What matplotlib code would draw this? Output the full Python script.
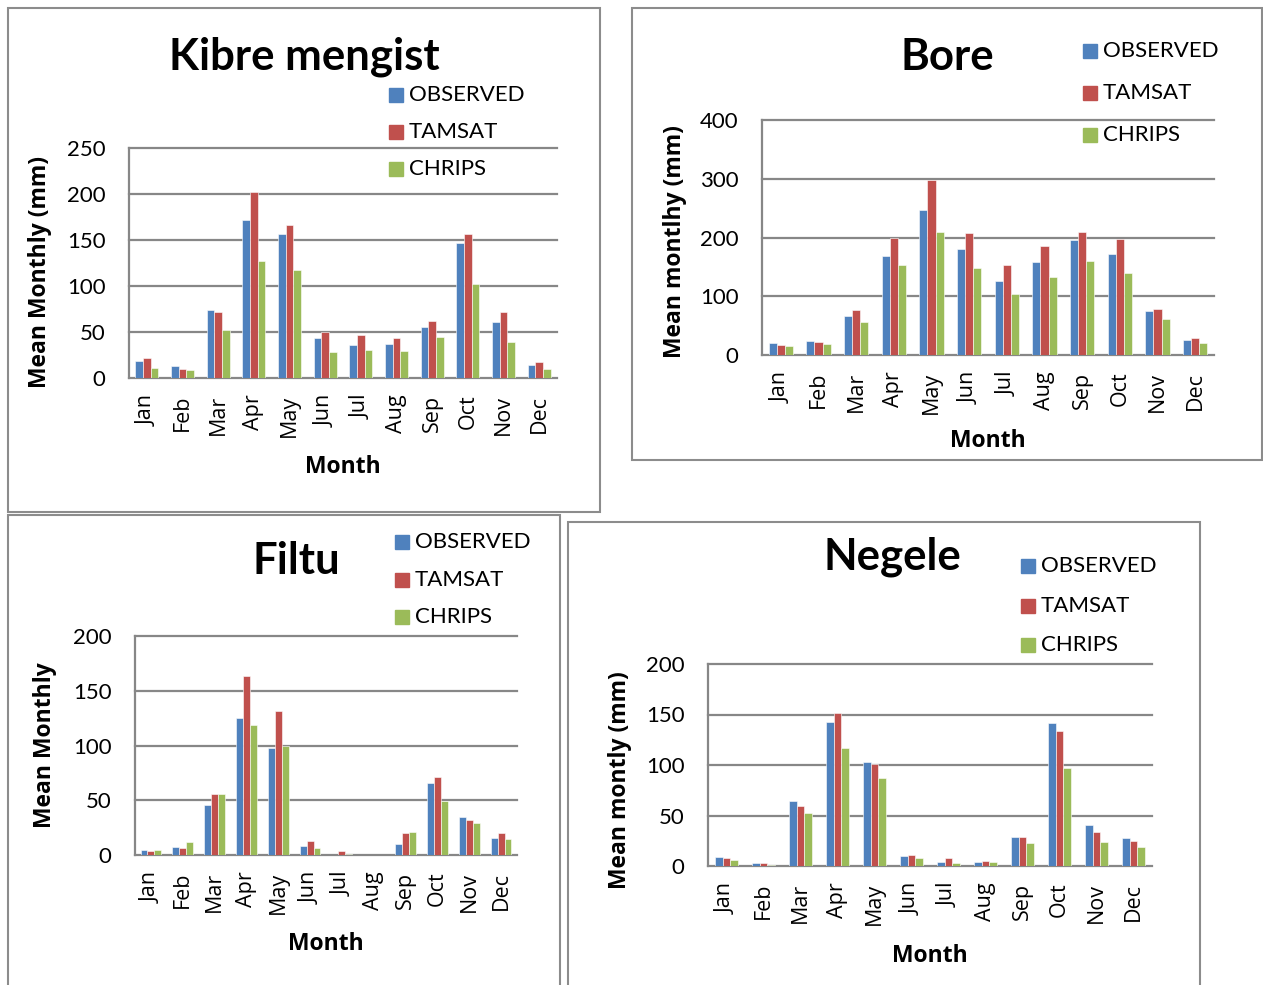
import matplotlib
matplotlib.use("Agg")
import matplotlib.pyplot as plt
from matplotlib.patches import Rectangle
import numpy as np

W, H = 1263, 985

months = ["Jan", "Feb", "Mar", "Apr", "May", "Jun", "Jul", "Aug", "Sep", "Oct", "Nov", "Dec"]
series_names = ["OBSERVED", "TAMSAT", "CHRIPS"]
series_colors = ["#4F81BD", "#C0504D", "#9BBB59"]

kibre_obs = [18.5, 13.4, 73.6, 171.4, 156.2, 43.1, 35.9, 36.6, 55.1, 147.1, 60.5, 13.8]
kibre_tam = [21.4, 9.8, 72.1, 201.8, 166.3, 50.0, 46.4, 43.5, 62.0, 156.2, 72.1, 17.4]
kibre_chr = [11.2, 8.7, 51.8, 126.8, 117.0, 28.3, 30.1, 29.7, 44.6, 101.8, 38.8, 10.1]

bore_obs = [19.8, 24.3, 66.7, 168.4, 246.3, 180.2, 126.0, 158.2, 196.0, 171.8, 75.1, 25.4]
bore_tam = [16.9, 22.6, 76.3, 198.9, 298.3, 207.9, 152.5, 185.3, 210.2, 197.2, 78.5, 29.4]
bore_chr = [15.3, 18.6, 56.5, 153.1, 210.2, 147.5, 103.4, 132.2, 160.5, 139.5, 61.0, 20.9]

filtu_obs = [4.6, 7.3, 45.4, 125.3, 97.9, 8.5, 0.0, 0.0, 10.1, 66.2, 34.8, 15.9]
filtu_tam = [4.0, 6.4, 55.5, 163.1, 131.1, 13.1, 3.7, 0.0, 19.8, 71.3, 32.3, 20.4]
filtu_chr = [4.9, 11.6, 55.5, 118.6, 99.7, 6.7, 1.2, 0.0, 21.3, 49.1, 29.3, 15.0]

negele_obs = [9.3, 3.0, 64.6, 142.4, 103.3, 9.9, 3.6, 4.0, 28.8, 141.1, 40.1, 28.1]
negele_tam = [8.3, 3.0, 59.6, 151.3, 101.0, 10.9, 8.3, 5.0, 28.5, 133.8, 34.1, 24.5]
negele_chr = [6.0, 1.0, 52.0, 116.6, 86.8, 7.6, 2.6, 4.0, 23.2, 97.4, 24.2, 18.9]

kibre_ticks = [0, 50, 100, 150, 200, 250]
bore_ticks = [0, 100, 200, 300, 400]
filtu_ticks = [0, 50, 100, 150, 200]
negele_ticks = [0, 50, 100, 150, 200]

CAL = ["Lato", "DejaVu Sans"]
WIDE = ["Open Sans", "DejaVu Sans"]
GRID = "#878787"

fig = plt.figure(figsize=(W / 100, H / 100), dpi=100)


def fx(x):
    return x / W


def fy(y):
    return 1 - y / H


def frame(x0, y0, x1, y1):
    fig.patches.append(Rectangle((fx(x0), fy(y1)), fx(x1 - x0), (y1 - y0) / H,
                                 transform=fig.transFigure, fill=False,
                                 edgecolor="#8c8c8c", lw=1.5, zorder=0))


def panel(box, data, ticks, title, title_xy, ylabel, ylabel_xy, xlabel_xy, legend_xy, leg_step):
    x0, y0, x1, y1 = box
    ax = fig.add_axes([fx(x0), fy(y1), fx(x1 - x0), (y1 - y0) / H])
    x = np.arange(len(months))
    bw = 0.215
    for i, (vals, col) in enumerate(zip(data, series_colors)):
        ax.bar(x + (i - 1) * bw, vals, width=bw, color=col, edgecolor="white",
               linewidth=0.4, zorder=3)
    ax.set_xlim(-0.5, len(months) - 0.5)
    ax.set_ylim(ticks[0], ticks[-1])
    ax.set_yticks(ticks)
    ax.set_yticklabels([str(t) for t in ticks], fontfamily=CAL, fontsize=16)
    ax.set_xticks(x)
    ax.set_xticklabels(months, rotation=90, fontfamily=WIDE, fontsize=15.5,
                       ha="center", va="top")
    ax.tick_params(axis="y", length=0, pad=17)
    ax.tick_params(axis="x", length=0, pad=12)
    ax.yaxis.grid(True, color=GRID, lw=1.6, zorder=1)
    for gl in ax.get_ygridlines():
        gl.set_clip_on(False)
    for s in ["top", "right", "bottom"]:
        ax.spines[s].set_visible(False)
    ax.spines["left"].set_color(GRID)
    ax.spines["left"].set_linewidth(1.6)
    ax.set_facecolor("none")

    fig.text(fx(title_xy[0]), fy(title_xy[1]), title, fontfamily=CAL,
             fontweight="bold", fontsize=31.5, ha="center", va="center")
    fig.text(fx(ylabel_xy[0]), fy(ylabel_xy[1]), ylabel, fontfamily=WIDE,
             fontweight="bold", fontsize=16.5, rotation=90, ha="center", va="center")
    fig.text(fx(xlabel_xy[0]), fy(xlabel_xy[1]), "Month", fontfamily=WIDE,
             fontweight="bold", fontsize=16.5, ha="center", va="center")

    lx, ly = legend_xy
    for k, (name, col) in enumerate(zip(series_names, series_colors)):
        yy = ly + k * leg_step
        fig.patches.append(Rectangle((fx(lx - 6), fy(yy + 7)), fx(14), 14 / H,
                                     transform=fig.transFigure, color=col))
        fig.text(fx(lx + 14), fy(yy), name, fontfamily=CAL, fontsize=16,
                 ha="left", va="center")
    return ax


frame(8, 8, 600, 512)
frame(632, 8, 1262, 460)
frame(8, 515, 560, 995)
frame(568, 522, 1200, 995)

panel((129, 148, 557, 378), [kibre_obs, kibre_tam, kibre_chr], kibre_ticks,
      "Kibre mengist", (304, 57), "Mean Monthly (mm)", (40, 272), (343, 467),
      (395, 95), 37)
panel((762, 120, 1214, 355), [bore_obs, bore_tam, bore_chr], bore_ticks,
      "Bore", (947, 57), "Mean montlhy (mm)", (675, 242), (988, 441),
      (1089, 51), 42)
panel((135, 636, 517, 855), [filtu_obs, filtu_tam, filtu_chr], filtu_ticks,
      "Filtu", (296, 561), "Mean Monthly", (45, 745), (326, 944),
      (401, 542), 37.5)
panel((708, 664, 1152, 866), [negele_obs, negele_tam, negele_chr], negele_ticks,
      "Negele", (892, 557), "Mean montly (mm)", (620, 780), (930, 956),
      (1027, 566), 39.5)

fig.savefig("out.png", dpi=100)
